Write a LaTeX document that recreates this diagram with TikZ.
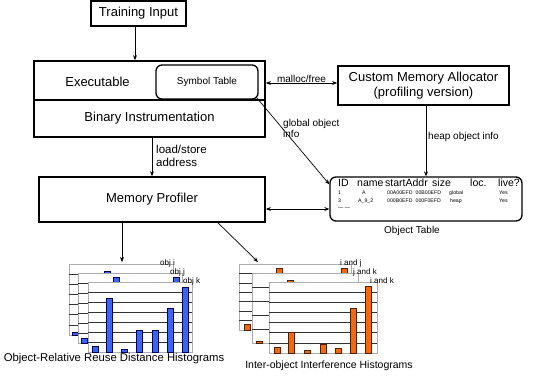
\documentclass[tikz,border=0pt]{standalone}
\usepackage{fontspec}
\setmainfont{Liberation Sans}
\usetikzlibrary{arrows.meta}
\newcommand{\fs}[1]{\fontsize{#1}{#1}\selectfont}
\newcommand{\histpanel}[7]{%
  \filldraw[panel] (#1,#2) rectangle ++(#3,#4);
  \foreach \i in {1,...,#5} \draw[gridln] ({#1},{#2+\i*#4/(#5+1)}) -- ++(#3,0);
  \foreach \bx/\bh in {#7} \filldraw[#6] ({#1+\bx-3},{#2+#4}) rectangle ++(6,-\bh);
}
\tikzset{
  bigbox/.style={draw, line width=1.7pt, fill=white, inner sep=0pt},
  rbox/.style={draw, line width=1.3pt, rounded corners=6pt, inner sep=0pt},
  conn/.style={-{Stealth[length=5pt,width=4pt]}, line width=0.7pt},
  dconn/.style={{Stealth[length=5pt,width=4pt]}-{Stealth[length=5pt,width=4pt]}, line width=0.7pt},
  txt/.style={inner sep=0pt, font=\fs{13}},
  lbl/.style={inner sep=0pt, font=\fs{10}},
  cell/.style={inner sep=0pt, anchor=base west, font=\fs{5.2}},
  head/.style={inner sep=0pt, anchor=base west, font=\fs{10.5}},
  panel/.style={fill=white, draw=gray!65, line width=0.9pt},
  gridln/.style={draw=black!80, line width=0.6pt},
  bluebar/.style={fill={rgb,255:red,51;green,102;blue,255}, draw={rgb,255:red,0;green,0;blue,90}, line width=0.6pt},
  orangebar/.style={fill={rgb,255:red,255;green,102;blue,0}, draw={rgb,255:red,80;green,30;blue,0}, line width=0.6pt},
  plbl/.style={inner sep=0pt, anchor=base west, font=\fs{8}},
}
\begin{document}
\begin{tikzpicture}[x=1pt,y=-1pt]
\useasboundingbox (0,0) rectangle (535,376);

% top blocks
\node[bigbox, minimum width=95pt, minimum height=25pt, font=\fs{13}] (ti) at (138.5,13.5) {Training Input};
\node[bigbox, minimum width=231pt, minimum height=39pt] (exe) at (149.5,80.5) {};
\node[bigbox, minimum width=231pt, minimum height=37pt, font=\fs{13}] (bin) at (149.5,118.5) {Binary Instrumentation};
\node[txt] (exetxt) at (97.5,81.5) {Executable};
\node[rbox, minimum width=102pt, minimum height=34pt, font=\fs{10}] (sym) at (207,82) {Symbol Table};
\node[bigbox, minimum width=171pt, minimum height=39pt, align=center, font=\fs{13}] (cma) at (423.5,85.5) {Custom Memory Allocator\\[1.5pt](profiling version)};
\node[bigbox, minimum width=226pt, minimum height=45pt, font=\fs{13}] (mp) at (152,199.5) {Memory Profiler};
\node[rbox, minimum width=192pt, minimum height=44pt] (ot) at (426,199) {};
\node[lbl] (otl) at (412,231) {Object Table};

% object table contents
\node[head] (h1) at (338,186) {ID};
\node[head] (h2) at (357,186) {name};
\node[head] (h3) at (385,186) {startAddr};
\node[head] (h4) at (432,186) {size};
\node[head] (h5) at (470,186) {loc.};
\node[head] (h6) at (498,186) {live?};
\node[cell] (r11) at (338,194) {1};
\node[cell] (r12) at (362,194) {A};
\node[cell] (r13) at (387,194) {00A00EFD};
\node[cell] (r14) at (415.5,194) {00B00EFD};
\node[cell] (r15) at (449,194) {global};
\node[cell] (r16) at (499,194) {Yes};
\node[cell] (r21) at (338,202) {3};
\node[cell] (r22) at (358,202) {A\_9\_2};
\node[cell] (r23) at (387,202) {000B0EFD};
\node[cell] (r24) at (415.5,202) {000F0EFD};
\node[cell] (r25) at (450,202) {heap};
\node[cell] (r26) at (499,202) {Yes};
\node[cell] (r31) at (338,209) {--- ---};

% connectors
\draw[conn] ([xshift=-3.5pt]ti.south) -- ([xshift=-3.5pt]ti.south |- exe.north);
\draw[dconn] ([yshift=-2.5pt]exe.east) -- ([yshift=-2.5pt]exe.east -| cma.west)
  node[midway, above, inner sep=0.3pt, font=\fs{10}] (mf) {malloc/free};
\draw[conn] ([xshift=2.5pt]cma.south) -- ([xshift=2.5pt]cma.south |- ot.north);
\node[lbl, anchor=west] (hoi) at (428,137) {heap object info};
\draw[conn] ([xshift=-2pt,yshift=2pt]sym.south east) -- ([yshift=-8pt]ot.north west);
\node[lbl, anchor=north west, align=left] (goi) at (283,119.5) {global object\\[1pt]info};
\draw[conn] (mp.north |- bin.south) -- (mp.north);
\node[inner sep=0pt, anchor=north west, align=left, font=\fs{11.5}] (lsa) at (156,145) {load/store\\[1.5pt]address};
\draw[dconn] ([yshift=-9.5pt]mp.east) -- ([yshift=-9.5pt]mp.east -| ot.west);

\coordinate (bh) at (122,262);
\coordinate (oh) at (258,262);
\draw[conn] ([xshift=-30pt]mp.south) -- (bh);
\draw[conn] ([xshift=66pt]mp.south) -- (oh);

% blue histograms
\histpanel{69}{264}{104}{71}{6}{bluebar}{6/3, 38/64}
\histpanel{78}{273}{104}{70}{6}{bluebar}{6/5, 38/66, 98/66}
\histpanel{88}{282}{104}{70}{6}{bluebar}{7/6, 21/54, 36/3, 51/22, 67/22, 82/44, 97/65}
\node[plbl] (oi) at (160,265) {obj i};
\node[plbl] (oj) at (170,274) {obj j};
\node[plbl] (ok) at (183,283) {obj k};
\node[inner sep=0pt, font=\fs{11.3}] (cap1) at (114,359) {Object-Relative Reuse Distance Histograms};

% orange histograms
\histpanel{239}{264}{112}{66}{6}{orangebar}{8/6, 40/62, 105/62}
\histpanel{252}{273}{106}{70}{4}{orangebar}{7/2, 38/63}
\histpanel{269}{282}{108}{71}{6}{orangebar}{8/6, 22/21, 38/3, 54/9, 69/5, 84/45, 99/67}
\node[plbl] (ij) at (340,265) {i and j};
\node[plbl] (jk) at (353,274) {j and k};
\node[plbl] (ik) at (370,283) {i and k};
\node[inner sep=0pt, font=\fs{10.5}] (cap2) at (329,366) {Inter-object Interference Histograms};
\end{tikzpicture}
\end{document}
